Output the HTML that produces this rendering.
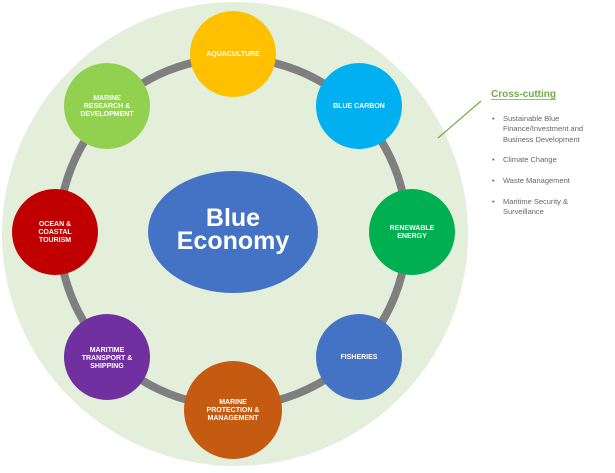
<!DOCTYPE html>
<html><head><style>
body{margin:0;background:#fff;width:615px;height:468px;overflow:hidden;font-family:"Liberation Sans",sans-serif;}
</style></head><body>
<svg width="615" height="468" viewBox="0 0 615 468" xmlns="http://www.w3.org/2000/svg">
<ellipse cx="235" cy="234" rx="233" ry="232" fill="#e3efda"/>
<circle cx="233" cy="232" r="174" fill="none" stroke="#7f7f7f" stroke-width="8"/>
<ellipse cx="233" cy="232" rx="85" ry="61" fill="#4472c4"/>
<text x="233" y="226" text-anchor="middle" fill="#fff" font-size="25" font-weight="bold">Blue</text>
<text x="233" y="249" text-anchor="middle" fill="#fff" font-size="25" font-weight="bold">Economy</text>
<g font-size="7" font-weight="bold" fill="#fff" text-anchor="middle">
<circle cx="233" cy="54" r="43" fill="#ffc000"/>
<text x="233" y="56">AQUACULTURE</text>
<circle cx="359" cy="106" r="43" fill="#00b0f0"/>
<text x="359" y="108">BLUE CARBON</text>
<circle cx="107" cy="106" r="43" fill="#92d050"/>
<text x="107" y="100">MARINE</text><text x="107" y="108">RESEARCH &amp;</text><text x="107" y="116">DEVELOPMENT</text>
<circle cx="55" cy="232" r="43" fill="#c00000"/>
<text x="55" y="226">OCEAN &amp;</text><text x="55" y="234">COASTAL</text><text x="55" y="242">TOURISM</text>
<circle cx="412" cy="232" r="43" fill="#00b050"/>
<text x="412" y="230">RENEWABLE</text><text x="412" y="238">ENERGY</text>
<circle cx="107" cy="357" r="43" fill="#7030a0"/>
<text x="107" y="352">MARITIME</text><text x="107" y="360">TRANSPORT &amp;</text><text x="107" y="368">SHIPPING</text>
<circle cx="359" cy="357" r="43" fill="#4472c4"/>
<text x="359" y="359">FISHERIES</text>
<circle cx="233" cy="410" r="49" fill="#c55a11"/>
<text x="233" y="404">MARINE</text><text x="233" y="412">PROTECTION &amp;</text><text x="233" y="420">MANAGEMENT</text>
</g>
<line x1="438" y1="138" x2="481" y2="101" stroke="#70ad47" stroke-width="1.2"/>
<text x="491" y="97" font-size="10" font-weight="bold" fill="#70ad47">Cross-cutting</text>
<line x1="491" y1="99.5" x2="556" y2="99.5" stroke="#70ad47" stroke-width="0.8"/>
<g font-size="7.5" fill="#666">
<text x="492" y="121">•</text>
<text x="503" y="121">Sustainable Blue</text>
<text x="503" y="131">Finance/Investment and</text>
<text x="503" y="142">Business Development</text>
<text x="492" y="162">•</text><text x="503" y="162">Climate Change</text>
<text x="492" y="183">•</text><text x="503" y="183">Waste Management</text>
<text x="492" y="204">•</text><text x="503" y="204">Maritime Security &amp;</text>
<text x="503" y="214">Surveillance</text>
</g>
</svg>
</body></html>
